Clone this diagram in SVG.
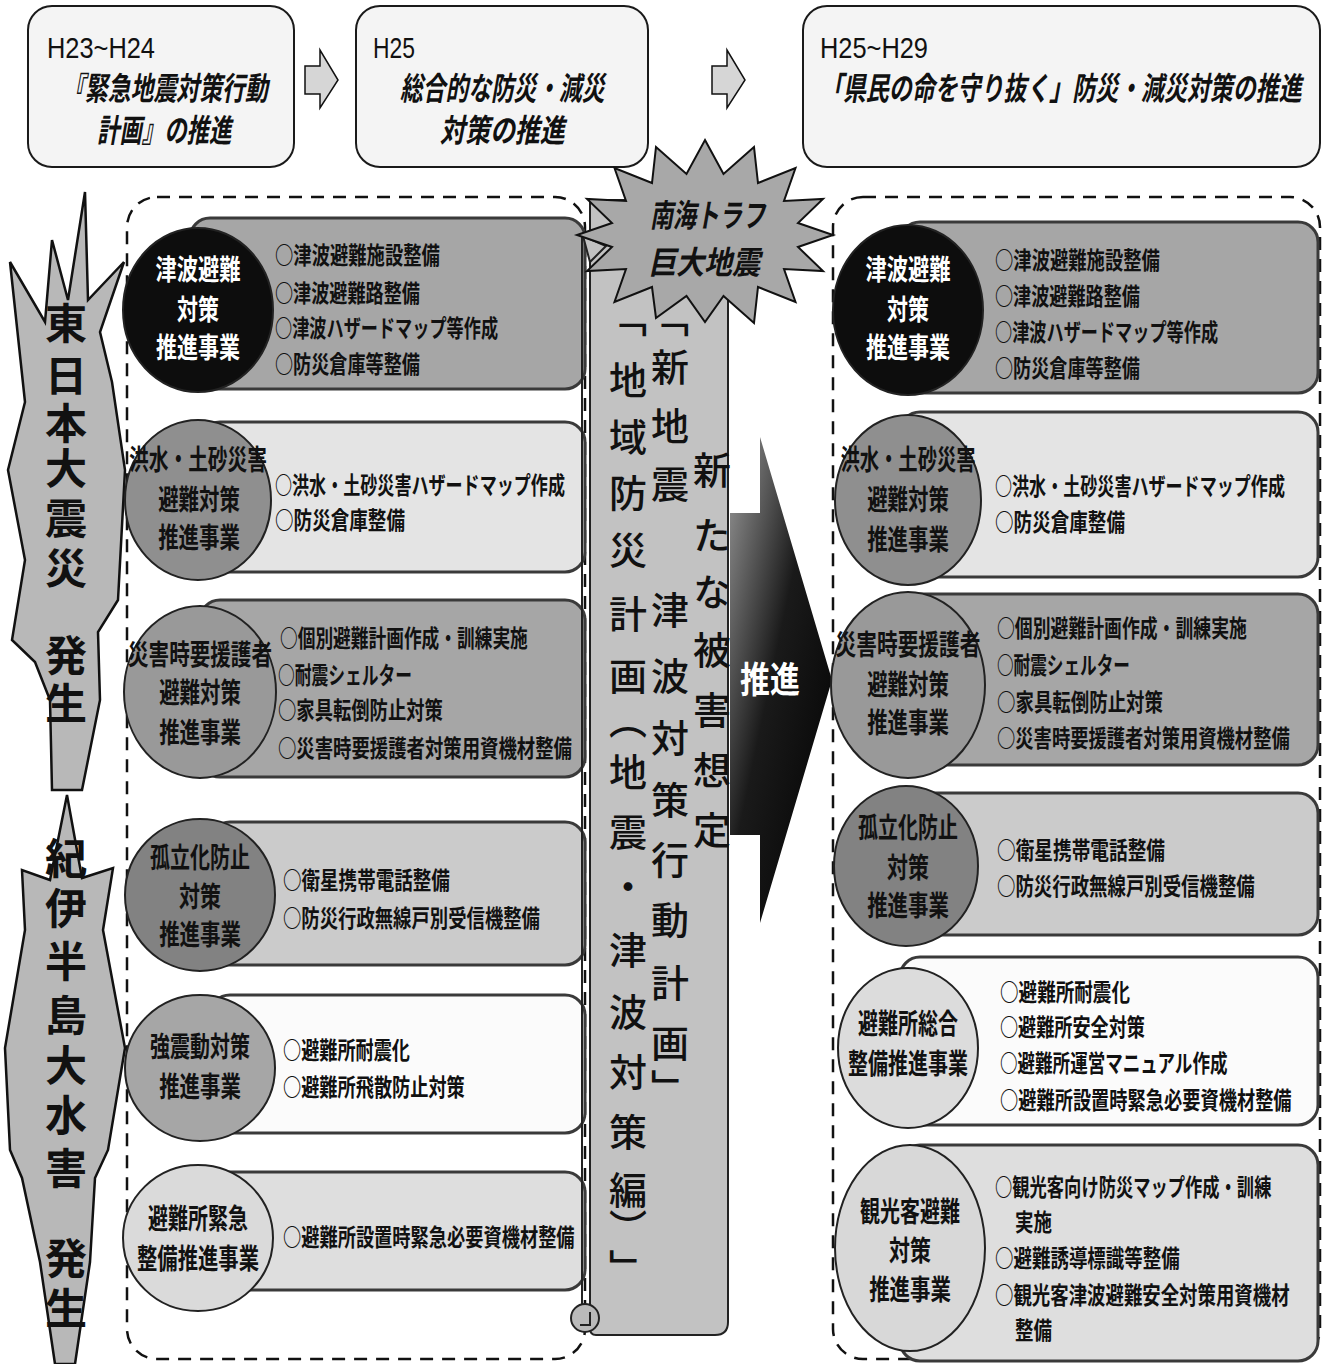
<svg xmlns="http://www.w3.org/2000/svg" width="1327" height="1364" viewBox="0 0 1327 1364">
<defs>
<style>
.hdr{fill:#f4f4f4;stroke:#1a1a1a;stroke-width:2}
.yr{font-family:"Liberation Sans",sans-serif;font-size:29px;fill:#111}
.ttl{font-family:"Noto Sans CJK JP",sans-serif;font-size:32px;font-weight:bold;font-style:italic;fill:#111}
.sarr{fill:#d6d6d6;stroke:#111;stroke-width:1.5}
.dash{fill:none;stroke:#111;stroke-width:2.5;stroke-dasharray:13 9}
.burst{fill:#b8b8b8;stroke:#111;stroke-width:2.5;stroke-linejoin:miter}
.bl{font-family:"Noto Sans CJK JP",sans-serif;font-size:42px;font-weight:bold;fill:#111;text-anchor:middle;dominant-baseline:central}
.box{stroke:#3a3a3a;stroke-width:3}
.g1{fill:#a6a6a6}.g2{fill:#e4e4e4}.g3{fill:#cbcbcb}.g4{fill:#fbfbfb}.g5{fill:#dedede}
.cir{stroke:#222;stroke-width:2}
.ct{font-family:"Noto Sans CJK JP",sans-serif;font-size:28px;font-weight:bold;fill:#111;text-anchor:middle}
.ctw{fill:#fff}
.it{font-family:"Noto Sans CJK JP",sans-serif;font-size:24px;font-weight:bold;fill:#111}
.scr{font-family:"Noto Sans CJK JP",sans-serif;font-size:38px;font-weight:500;fill:#111;text-anchor:middle}
.star{fill:#a8a8a8;stroke:#111;stroke-width:2}
.stt{font-family:"Noto Sans CJK JP",sans-serif;font-size:32px;font-weight:bold;font-style:italic;fill:#111}
</style>
<linearGradient id="ag" x1="0" y1="0" x2="1" y2="1">
<stop offset="0" stop-color="#9a9a9a"/>
<stop offset="0.45" stop-color="#1a1a1a"/>
<stop offset="1" stop-color="#000"/>
</linearGradient>
</defs>
<rect width="1327" height="1364" fill="#fff"/>

<!-- header -->
<g id="hdr1">
<rect class="hdr" x="28" y="6" width="266" height="161" rx="24"/>
<text class="yr" x="47" y="58" textLength="108" lengthAdjust="spacingAndGlyphs">H23~H24</text>
<text class="ttl" transform="translate(62,100) scale(0.715,1)">『緊急地震対策行動</text>
<text class="ttl" transform="translate(97,142) scale(0.7,1)">計画』の推進</text>
</g>
<g id="hdr2">
<rect class="hdr" x="356" y="6" width="292" height="161" rx="24"/>
<text class="yr" x="373" y="58" textLength="42" lengthAdjust="spacingAndGlyphs">H25</text>
<text class="ttl" transform="translate(400,100) scale(0.71,1)">総合的な防災・減災</text>
<text class="ttl" transform="translate(440,142) scale(0.78,1)">対策の推進</text>
</g>
<g id="hdr3">
<rect class="hdr" x="803" y="6" width="517" height="161" rx="24"/>
<text class="yr" x="820" y="58" textLength="108" lengthAdjust="spacingAndGlyphs">H25~H29</text>
<text class="ttl" transform="translate(820,100) scale(0.717,1)">「県民の命を守り抜く」防災・減災対策の推進</text>
</g>

<g id="connectors">
<polygon class="sarr" points="305,66 320,66 320,50 338,80 320,108 320,94 305,94"/>
<polygon class="sarr" points="712,66 727,66 727,50 745,80 727,108 727,94 712,94"/>
</g>

<!-- dashed containers -->
<rect class="dash" x="127" y="197" width="458" height="1162" rx="30"/>
<rect class="dash" x="833" y="197" width="487" height="1162" rx="30"/>

<!-- left bursts -->
<g id="burst1">
<polygon class="burst" points="85,192 88,300 124,262 100,332 112,382 125,470 118,600 98,632 100,700 82,790 52,790 50,700 35,662 12,640 25,560 8,470 25,402 10,262 45,322 52,240 68,300"/>
<text class="bl" x="66 66 66 66 66 66 66 66 66" y="320 372 420 465 515 565 610 652 700">東日本大震災　発生</text>
</g>
<g id="burst2">
<polygon class="burst" points="67,795 82,878 113,868 103,930 125,1048 108,1150 95,1178 90,1262 75,1364 55,1364 40,1262 22,1178 10,1150 5,1048 25,930 22,870 50,880"/>
<text class="bl" x="66 66 66 66 66 66 66 66 66 66" y="855 905 958 1012 1062 1112 1165 1210 1255 1305">紀伊半島大水害　発生</text>
</g>

<!-- left nodes -->
<g id="L1">
<rect class="box g1" x="190" y="218" width="395" height="171" rx="20"/>
<ellipse class="cir" cx="198" cy="310" rx="75" ry="82" fill="#0d0d0d"/>
<text class="ct ctw" transform="translate(198,280) scale(0.76,1)">津波避難</text>
<text class="ct ctw" transform="translate(198,320) scale(0.75,1)">対策</text>
<text class="ct ctw" transform="translate(198,358) scale(0.75,1)">推進事業</text>
<text class="it" transform="translate(275,264) scale(0.764,1)">○津波避難施設整備</text>
<text class="it" transform="translate(275,302) scale(0.755,1)">○津波避難路整備</text>
<text class="it" transform="translate(275,337) scale(0.715,1)">○津波ハザードマップ等作成</text>
<text class="it" transform="translate(275,373) scale(0.755,1)">○防災倉庫等整備</text>
</g>
<g id="L2">
<rect class="box g2" x="200" y="422" width="385" height="150" rx="20"/>
<ellipse class="cir" cx="198" cy="500" rx="73" ry="80" fill="#8f8f8f"/>
<text class="ct" transform="translate(198,470) scale(0.704,1)">洪水・土砂災害</text>
<text class="ct" transform="translate(199,510) scale(0.73,1)">避難対策</text>
<text class="ct" transform="translate(199,548) scale(0.73,1)">推進事業</text>
<text class="it" transform="translate(275,494) scale(0.711,1)">○洪水・土砂災害ハザードマップ作成</text>
<text class="it" transform="translate(275,529) scale(0.774,1)">○防災倉庫整備</text>
</g>
<g id="L3">
<rect class="box g1" x="200" y="600" width="385" height="177" rx="20"/>
<ellipse class="cir" cx="200" cy="692" rx="76" ry="86" fill="#999"/>
<text class="ct" transform="translate(200,665) scale(0.735,1)">災害時要援護者</text>
<text class="ct" transform="translate(200,703) scale(0.73,1)">避難対策</text>
<text class="ct" transform="translate(200,743) scale(0.73,1)">推進事業</text>
<text class="it" transform="translate(280,647) scale(0.738,1)">○個別避難計画作成・訓練実施</text>
<text class="it" transform="translate(278,684) scale(0.698,1)">○耐震シェルター</text>
<text class="it" transform="translate(278,719) scale(0.764,1)">○家具転倒防止対策</text>
<text class="it" transform="translate(278,757) scale(0.766,1)">○災害時要援護者対策用資機材整備</text>
</g>
<g id="L4">
<rect class="box g3" x="210" y="822" width="375" height="143" rx="20"/>
<ellipse class="cir" cx="200" cy="895" rx="75" ry="76" fill="#828282"/>
<text class="ct" transform="translate(200,868) scale(0.714,1)">孤立化防止</text>
<text class="ct" transform="translate(200,907) scale(0.75,1)">対策</text>
<text class="ct" transform="translate(200,945) scale(0.73,1)">推進事業</text>
<text class="it" transform="translate(283,889) scale(0.773,1)">○衛星携帯電話整備</text>
<text class="it" transform="translate(283,927) scale(0.765,1)">○防災行政無線戸別受信機整備</text>
</g>
<g id="L5">
<rect class="box g4" x="210" y="995" width="375" height="138" rx="20"/>
<ellipse class="cir" cx="200" cy="1068" rx="75" ry="73" fill="#a6a6a6"/>
<text class="ct" transform="translate(200,1057) scale(0.714,1)">強震動対策</text>
<text class="ct" transform="translate(200,1097) scale(0.73,1)">推進事業</text>
<text class="it" transform="translate(283,1059) scale(0.756,1)">○避難所耐震化</text>
<text class="it" transform="translate(283,1096) scale(0.758,1)">○避難所飛散防止対策</text>
</g>
<g id="L6">
<rect class="box g5" x="210" y="1172" width="375" height="118" rx="20"/>
<ellipse class="cir" cx="198" cy="1238" rx="75" ry="73" fill="#dadada"/>
<text class="ct" transform="translate(198,1229) scale(0.714,1)">避難所緊急</text>
<text class="ct" transform="translate(198,1269) scale(0.726,1)">整備推進事業</text>
<text class="it" transform="translate(283,1246) scale(0.76,1)">○避難所設置時緊急必要資機材整備</text>
</g>

<!-- scroll -->
<g id="scroll">
<path d="M590 200 L728 200 L728 1322 Q728 1335 715 1335 L596 1335 Q590 1335 590 1328 Z" fill="#c2c2c2" stroke="#222" stroke-width="2"/>
<line x1="582" y1="235" x2="582" y2="1305" stroke="#222" stroke-width="2"/>
<polygon points="583,236 606,246 590,262" fill="#c2c2c2" stroke="#222" stroke-width="2"/>
<circle cx="585" cy="1318" r="14" fill="#bababa" stroke="#222" stroke-width="2"/>
<path d="M590 1312 L590 1325 L580 1325" fill="none" stroke="#222" stroke-width="2"/>
<text class="scr" writing-mode="vertical-rl" x="628" y="318 380 437 493 550 614 676 720 772 832 887 950 1012 1072 1132 1190 1228 1268">「地域防災計画（地震・津波対策編）」</text>
<text class="scr" writing-mode="vertical-rl" x="670" y="318 367 426 484 545 610 676 738 800 860 920 983 1043 1088">「新地震　津波対策行動計画」</text>
<text class="scr" writing-mode="vertical-rl" x="712" y="470 535 592 650 710 770 830">新たな被害想定</text>
</g>

<!-- big arrow -->
<g id="suishin">
<path d="M730 513 L760 513 L760 437 L832 680 L760 923 L760 835 L730 835 Z" fill="url(#ag)"/>
<text transform="translate(770,693) scale(0.83,1)" font-family="Noto Sans CJK JP, sans-serif" font-size="36" font-weight="bold" fill="#fff" text-anchor="middle">推進</text>
</g>

<!-- star -->
<g id="nankai">
<polygon class="star" points="705,140 723.5,174 754,147 758,183 795.5,168 784,201 823,199 798,223 833,235 798,247 823,271 784,269 795.5,302 758,287 754,323 723.5,296 705,322 686.5,296 656,318 652,287 614.5,302 626,269 587,271 612,247 577,235 612,223 587,199 626,201 614.5,168 652,183 656,147 686.5,174"/>
<text class="stt" transform="translate(650,227) scale(0.72,1)">南海トラフ</text>
<text class="stt" transform="translate(648,274) scale(0.875,1)">巨大地震</text>
</g>

<!-- right nodes -->
<g id="R1">
<rect class="box g1" x="900" y="222" width="418" height="171" rx="20"/>
<ellipse class="cir" cx="908" cy="310" rx="75" ry="85" fill="#0d0d0d"/>
<text class="ct ctw" transform="translate(908,280) scale(0.76,1)">津波避難</text>
<text class="ct ctw" transform="translate(908,320) scale(0.75,1)">対策</text>
<text class="ct ctw" transform="translate(908,358) scale(0.75,1)">推進事業</text>
<text class="it" transform="translate(995,269) scale(0.764,1)">○津波避難施設整備</text>
<text class="it" transform="translate(995,305) scale(0.755,1)">○津波避難路整備</text>
<text class="it" transform="translate(995,341) scale(0.715,1)">○津波ハザードマップ等作成</text>
<text class="it" transform="translate(995,377) scale(0.755,1)">○防災倉庫等整備</text>
</g>
<g id="R2">
<rect class="box g2" x="900" y="412" width="418" height="165" rx="20"/>
<ellipse class="cir" cx="908" cy="500" rx="73" ry="85" fill="#8f8f8f"/>
<text class="ct" transform="translate(908,470) scale(0.69,1)">洪水・土砂災害</text>
<text class="ct" transform="translate(908,510) scale(0.73,1)">避難対策</text>
<text class="ct" transform="translate(908,550) scale(0.73,1)">推進事業</text>
<text class="it" transform="translate(995,495) scale(0.711,1)">○洪水・土砂災害ハザードマップ作成</text>
<text class="it" transform="translate(995,531) scale(0.774,1)">○防災倉庫整備</text>
</g>
<g id="R3">
<rect class="box g1" x="900" y="594" width="418" height="171" rx="20"/>
<ellipse class="cir" cx="908" cy="685" rx="77" ry="93" fill="#999"/>
<text class="ct" transform="translate(908,655) scale(0.74,1)">災害時要援護者</text>
<text class="ct" transform="translate(908,695) scale(0.73,1)">避難対策</text>
<text class="ct" transform="translate(908,733) scale(0.73,1)">推進事業</text>
<text class="it" transform="translate(997,637) scale(0.744,1)">○個別避難計画作成・訓練実施</text>
<text class="it" transform="translate(997,674) scale(0.693,1)">○耐震シェルター</text>
<text class="it" transform="translate(997,711) scale(0.769,1)">○家具転倒防止対策</text>
<text class="it" transform="translate(997,747) scale(0.763,1)">○災害時要援護者対策用資機材整備</text>
</g>
<g id="R4">
<rect class="box g3" x="900" y="793" width="418" height="142" rx="20"/>
<ellipse class="cir" cx="906" cy="866" rx="72" ry="80" fill="#828282"/>
<text class="ct" transform="translate(908,838) scale(0.714,1)">孤立化防止</text>
<text class="ct" transform="translate(908,878) scale(0.75,1)">対策</text>
<text class="ct" transform="translate(908,916) scale(0.73,1)">推進事業</text>
<text class="it" transform="translate(997,859) scale(0.778,1)">○衛星携帯電話整備</text>
<text class="it" transform="translate(997,895) scale(0.768,1)">○防災行政無線戸別受信機整備</text>
</g>
<g id="R5">
<rect class="box g4" x="900" y="957" width="418" height="168" rx="20"/>
<ellipse class="cir" cx="908" cy="1048" rx="70" ry="80" fill="#dcdcdc"/>
<text class="ct" transform="translate(908,1034) scale(0.714,1)">避難所総合</text>
<text class="ct" transform="translate(908,1074) scale(0.714,1)">整備推進事業</text>
<text class="it" transform="translate(1000,1001) scale(0.774,1)">○避難所耐震化</text>
<text class="it" transform="translate(1000,1036) scale(0.755,1)">○避難所安全対策</text>
<text class="it" transform="translate(1000,1072) scale(0.731,1)">○避難所運営マニュアル作成</text>
<text class="it" transform="translate(1000,1109) scale(0.76,1)">○避難所設置時緊急必要資機材整備</text>
</g>
<g id="R6">
<rect class="box g5" x="900" y="1145" width="418" height="216" rx="20"/>
<ellipse class="cir" cx="910" cy="1248" rx="75" ry="103" fill="#d8d8d8"/>
<text class="ct" transform="translate(910,1222) scale(0.714,1)">観光客避難</text>
<text class="ct" transform="translate(910,1261) scale(0.75,1)">対策</text>
<text class="ct" transform="translate(910,1300) scale(0.73,1)">推進事業</text>
<text class="it" transform="translate(995,1196) scale(0.72,1)">○観光客向け防災マップ作成・訓練</text>
<text class="it" transform="translate(1015,1231) scale(0.77,1)">実施</text>
<text class="it" transform="translate(995,1267) scale(0.77,1)">○避難誘導標識等整備</text>
<text class="it" transform="translate(995,1304) scale(0.768,1)">○観光客津波避難安全対策用資機材</text>
<text class="it" transform="translate(1015,1339) scale(0.77,1)">整備</text>
</g>
</svg>
